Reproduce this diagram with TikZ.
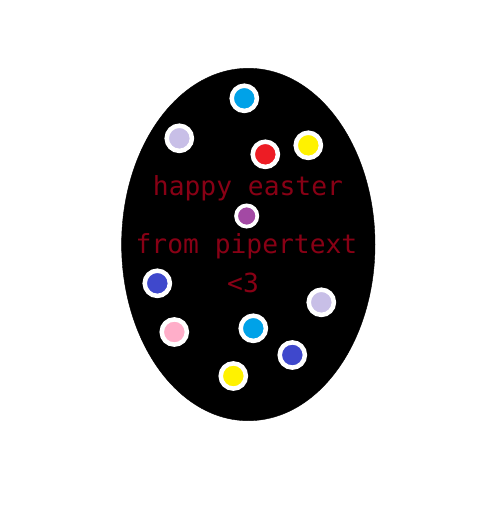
\documentclass[tikz,border=0pt]{standalone}
\usepackage{fontspec}
\usepackage{tikz}
\setmonofont{DejaVu Sans Mono}
\definecolor{turq}{RGB}{0,162,232}
\definecolor{lavender}{RGB}{200,191,231}
\definecolor{eggred}{RGB}{237,28,36}
\definecolor{eggyellow}{RGB}{255,242,0}
\definecolor{eggpurple}{RGB}{163,73,164}
\definecolor{indigo}{RGB}{63,72,204}
\definecolor{eggpink}{RGB}{255,174,201}
\definecolor{darkred}{RGB}{136,0,21}
\tikzset{
  dot/.style={fill=#1,draw=white,line width=4.5pt},
  smalldot/.style={fill=#1,draw=white,line width=3.8pt},
  greeting/.style={anchor=base,inner sep=0pt,text=darkred,font=\fontsize{26.3}{30}\selectfont\ttfamily}
}

\begin{document}
\begin{tikzpicture}[x=1pt,y=-1pt]
   \useasboundingbox (0,0) rectangle (480,514);
   \fill[white] (0,0) rectangle (480,514);
   \draw[fill=black] (248.3,244.5) ellipse (126.7pt and 176.2pt);
   \draw[dot=turq] (244.3,98.3) circle (12.6pt);
   \draw[dot=lavender] (179.3,138.3) circle (12.6pt);
   \draw[dot=eggred] (265.3,154.3) circle (12.6pt);
   \draw[dot=eggyellow] (308.3,145.3) circle (12.6pt);
   \draw[smalldot=eggpurple] (246.7,216) circle (10.6pt);
   \draw[dot=indigo] (157.3,283.3) circle (12.6pt);
   \draw[dot=lavender] (321.3,302.3) circle (12.6pt);
   \draw[dot=eggpink] (174.3,332) circle (12.6pt);
   \draw[dot=turq] (253.3,328.3) circle (12.6pt);
   \draw[dot=indigo] (292.3,355) circle (12.6pt);
   \draw[dot=eggyellow] (233.3,376) circle (12.6pt);
   \node[greeting] (happy) at (248,195) {happy easter};
   \node[greeting] (from) at (246.5,253) {from pipertext};
   \node[greeting] (heart) at (243,292) {<3};
  \end{tikzpicture}
\end{document}
